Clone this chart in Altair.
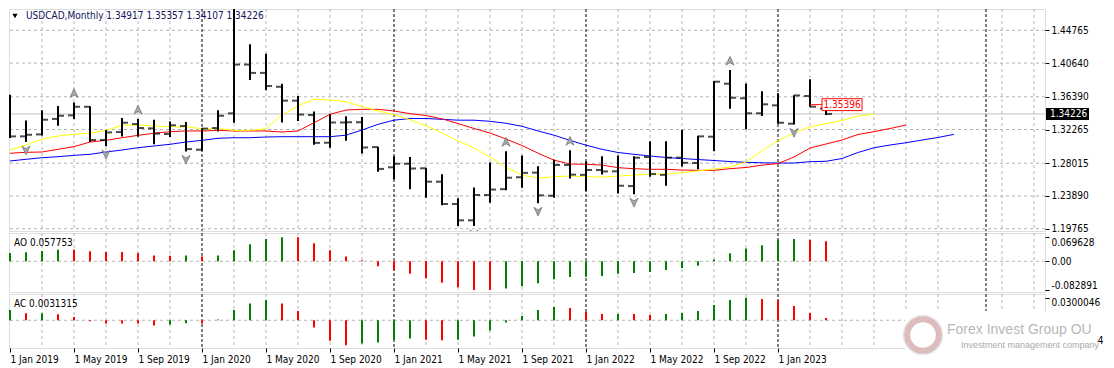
import altair as alt
import pandas as pd

# ---------------- data ----------------
x_labels = ["1 Jan 2019", "1 May 2019", "1 Sep 2019", "1 Jan 2020", "1 May 2020",
            "1 Sep 2020", "1 Jan 2021", "1 May 2021", "1 Sep 2021", "1 Jan 2022",
            "1 May 2022", "1 Sep 2022", "1 Jan 2023"]

opens = [1.3637, 1.3140, 1.3165, 1.3360, 1.3405, 1.3513, 1.3094, 1.3195, 1.3295, 1.3241,
         1.3170, 1.3270, 1.2972, 1.3245, 1.3430, 1.4045, 1.3940, 1.3765, 1.3590, 1.3410,
         1.3060, 1.3315, 1.3318, 1.3005, 1.2750, 1.2795, 1.2738, 1.2569, 1.2288, 1.2082,
         1.2401, 1.2475, 1.2625, 1.2683, 1.2392, 1.2779, 1.2655, 1.2716, 1.2700, 1.2514,
         1.2880, 1.2655, 1.2872, 1.2805, 1.3136, 1.3804, 1.3620, 1.3431, 1.3531, 1.3300,
         1.3649, 1.34917]
highs = [1.3665, 1.3340, 1.3468, 1.3522, 1.3568, 1.3521, 1.3220, 1.3370, 1.3360, 1.3348,
         1.3328, 1.3321, 1.3242, 1.3468, 1.4760, 1.4300, 1.4180, 1.3804, 1.3649, 1.3455,
         1.3418, 1.3395, 1.3384, 1.3010, 1.2890, 1.2880, 1.2740, 1.2662, 1.2360, 1.2495,
         1.2812, 1.2952, 1.2900, 1.2765, 1.2845, 1.2966, 1.2822, 1.2890, 1.2900, 1.2890,
         1.3080, 1.3078, 1.3224, 1.3148, 1.3838, 1.3975, 1.3806, 1.3710, 1.3683, 1.3658,
         1.3859, 1.35357]
lows = [1.3118, 1.3068, 1.3150, 1.3274, 1.3360, 1.3070, 1.3016, 1.3140, 1.3134, 1.3042,
        1.3131, 1.2951, 1.2960, 1.3200, 1.3312, 1.3850, 1.3720, 1.3315, 1.3333, 1.3035,
        1.2996, 1.3085, 1.2925, 1.2695, 1.2599, 1.2473, 1.2367, 1.2271, 1.2011, 1.2011,
        1.2304, 1.2462, 1.2494, 1.2296, 1.2367, 1.2608, 1.2451, 1.2660, 1.2420, 1.2410,
        1.2631, 1.2519, 1.2762, 1.2727, 1.2953, 1.3489, 1.3229, 1.3397, 1.3300, 1.3290,
        1.3514, 1.34107]
closes = [1.3140, 1.3160, 1.3350, 1.3400, 1.3513, 1.3094, 1.3190, 1.3312, 1.3245, 1.3175,
          1.3280, 1.2980, 1.3238, 1.3400, 1.4045, 1.3940, 1.3775, 1.3590, 1.3415, 1.3058,
          1.3315, 1.3318, 1.3000, 1.2730, 1.2795, 1.2735, 1.2569, 1.2288, 1.2082, 1.2401,
          1.2470, 1.2619, 1.2680, 1.2397, 1.2779, 1.2658, 1.2716, 1.2698, 1.2518, 1.2871,
          1.2665, 1.2872, 1.2807, 1.3140, 1.3829, 1.3627, 1.3431, 1.3544, 1.3312, 1.3656,
          1.3514, 1.34226]

# Alligator lines (already shifted forward, one value per bar slot)
lips = [1.2968, 1.3031, 1.3103, 1.3145, 1.3166, 1.3179, 1.3216, 1.3279, 1.3283, 1.3271,
        1.3262, 1.3258, 1.3237, 1.3237, 1.3216, 1.3216, 1.3237, 1.3409, 1.3523, 1.3607,
        1.3598, 1.3577, 1.3516, 1.3460, 1.3413, 1.3350, 1.3271, 1.3182, 1.3085, 1.2993,
        1.2880, 1.2748, 1.2653, 1.2615, 1.2632, 1.2640, 1.2632, 1.2628, 1.2640, 1.2653,
        1.2662, 1.2669, 1.2682, 1.2704, 1.2729, 1.2754, 1.2817, 1.2956, 1.3088, 1.3182,
        1.3258, 1.3300, 1.3340, 1.3397, 1.3418]
teeth = [1.2927, 1.2939, 1.2943, 1.2977, 1.3010, 1.3069, 1.3090, 1.3123, 1.3153, 1.3179,
         1.3199, 1.3208, 1.3208, 1.3216, 1.3208, 1.3208, 1.3208, 1.3195, 1.3208, 1.3312,
         1.3418, 1.3472, 1.3481, 1.3481, 1.3460, 1.3426, 1.3403, 1.3361, 1.3302, 1.3239,
         1.3182, 1.3107, 1.3025, 1.2928, 1.2840, 1.2792, 1.2788, 1.2779, 1.2745, 1.2733,
         1.2725, 1.2725, 1.2716, 1.2712, 1.2712, 1.2733, 1.2748, 1.2777, 1.2798, 1.2880,
         1.2993, 1.3044, 1.3094, 1.3164, 1.3199, 1.3239, 1.3283]
jaw = [1.2830, 1.2851, 1.2871, 1.2884, 1.2901, 1.2914, 1.2943, 1.2968, 1.2997, 1.3019,
       1.3040, 1.3069, 1.3090, 1.3116, 1.3123, 1.3123, 1.3132, 1.3136, 1.3136, 1.3136,
       1.3136, 1.3155, 1.3220, 1.3292, 1.3344, 1.3365, 1.3365, 1.3355, 1.3344, 1.3344,
       1.3330, 1.3305, 1.3267, 1.3208, 1.3155, 1.3090, 1.3029, 1.2977, 1.2937, 1.2914,
       1.2893, 1.2874, 1.2861, 1.2848, 1.2836, 1.2823, 1.2813, 1.2807, 1.2804, 1.2804,
       1.2821, 1.2826, 1.2861, 1.2937, 1.2997, 1.3031, 1.3060, 1.3094, 1.3126, 1.3166]

ao = [0.024, 0.026, 0.030, 0.0335, 0.033, 0.029, 0.027, 0.0265, 0.024, 0.017,
      0.016, 0.017, 0.014, 0.017, 0.032, 0.049, 0.064, 0.0696, 0.069, 0.052,
      0.032, 0.014, 0.003, -0.014, -0.026, -0.036, -0.049, -0.062, -0.075, -0.0826,
      -0.0829, -0.078, -0.072, -0.063, -0.052, -0.045, -0.0445, -0.042, -0.036, -0.034,
      -0.031, -0.025, -0.019, -0.013, 0.005, 0.023, 0.037, 0.046, 0.062, 0.064,
      0.062, 0.0578]
ao_colors = list("gggg" "rrrrrrr" "g" "r" "ggggg" "rrrrrrrrrrrrr" "ggggggggggggggggggg" "rr")

ac = [0.0136, 0.0092, 0.0092, 0.0079, 0.0044, -0.0013, -0.0044, -0.0044, -0.0044, -0.0070,
      -0.0057, -0.0040, -0.0044, 0.0009, 0.0136, 0.0224, 0.0268, 0.0224, 0.0123, -0.0097,
      -0.0273, -0.0331764, -0.0308, -0.0295, -0.0260, -0.0242, -0.0260, -0.0264, -0.0258, -0.0216,
      -0.0136, -0.0031, 0.0057, 0.0136, 0.0176, 0.0163, 0.0110, 0.0084, 0.0085, 0.0083,
      0.0070, 0.0084, 0.0097, 0.0123, 0.0202, 0.0268, 0.0300046, 0.0282, 0.0268, 0.0189,
      0.0097, 0.0031315]
ac_colors = list("g" "r" "g" "rrrrrrr" "gg" "r" "gggg" "rrrrr" "gggg" "rr" "ggggggg"
                 "rrr" "g" "rr" "gggggg" "rrrrr")

fractal_up = [4, 8, 14, 31, 35, 45]
fractal_down = [1, 6, 11, 29, 33, 39, 49]

price_ticks = [1.19765, 1.23890, 1.28015, 1.32265, 1.36390, 1.40640, 1.44765]
ao_ticks = [0.069628, 0.0, -0.082891]
ao_tick_labels = ["0.069628", "0.00", "-0.082891"]
ac_ticks = [0.0300046, -0.0331764]          # the 0.00 label is hidden under the logo
ac_tick_labels = ["0.0300046", "-0.0331764"]

year_separators = [12, 24, 36, 48, 61]
grid_bars = [2, 4, 6, 8, 10, 14, 16, 18, 20, 22, 26, 28, 30, 32, 34, 38, 40, 42, 44, 46,
             50, 52, 54, 56, 58, 62, 64]

symbol = "USDCAD,Monthly"
last_ohlc = [1.34917, 1.35357, 1.34107, 1.34226]
current_price = 1.34226
price_label = 1.35396
price_label_bar = 50
ao_caption = "AO 0.057753"
ac_caption = "AC 0.0031315"
brand = "Forex Invest Group OU"
brand_sub = "Investment management company"

# ---------------- layout / style ----------------
W = 1036
H_MAIN, H_AO, H_AC = 222, 59, 54
FONT = "'DejaVu Sans Condensed', 'Liberation Sans', sans-serif"
GRID = "#b4b4b4"
UP_PATH = "M0,-1L0.85,0.85L0,0.3L-0.85,0.85Z"
DOWN_PATH = "M0,1L0.85,-0.85L0,-0.3L-0.85,-0.85Z"

n = len(opens)
bars = pd.DataFrame({"i": list(range(n)), "o": opens, "h": highs, "l": lows, "c": closes})
lips_df = pd.DataFrame({"i": list(range(len(lips))), "v": lips})
teeth_df = pd.DataFrame({"i": list(range(len(teeth))), "v": teeth})
jaw_df = pd.DataFrame({"i": list(range(len(jaw))), "v": jaw})
ao_df = pd.DataFrame({"i": list(range(len(ao))), "v": ao, "c": ao_colors})
ac_df = pd.DataFrame({"i": list(range(len(ac))), "v": ac, "c": ac_colors})
grid_df = pd.DataFrame({"g": grid_bars})
sep_df = pd.DataFrame({"s": year_separators})
ptick_df = pd.DataFrame({"p": price_ticks})
cur_df = pd.DataFrame({"p": [current_price], "t": [f"{current_price:.5f}"]})
lbl_df = pd.DataFrame({"p": [price_label], "b": [price_label_bar]})
zero_df = pd.DataFrame({"z": [0.0]})
one = pd.DataFrame({"k": [0]})
header_df = pd.DataFrame({"t": [symbol + "  " + " ".join(f"{v:.5f}" for v in last_ohlc)]})

xs = alt.Scale(domain=[-1 / 16, (W - 1) / 16], nice=False, zero=False)
ys = alt.Scale(domain=[1.19477, 1.4745], nice=False, zero=False)
ys_ao = alt.Scale(domain=[-0.0884, 0.0815], nice=False, zero=False)
ys_ac = alt.Scale(domain=[-0.0368, 0.0349], nice=False, zero=False)
col_scale = alt.Scale(domain=["g", "r"], range=["#008000", "#ff0000"])


def label_expr(vals, labels):
    expr = "''"
    for v, l in reversed(list(zip(vals, labels))):
        expr = f"(abs(datum.value - ({v})) < 1e-9 ? '{l}' : {expr})"
    return expr


def right_axis(values, **kw):
    return alt.Axis(orient="right", values=values, title=None, grid=False, domain=False,
                    tickSize=4, tickColor="black", labelColor="black", labelFont=FONT,
                    labelFontSize=10, labelPadding=2, zindex=0, **kw)


# indicator windows: max label hangs below its tick, min label sits above its tick
IND_BASELINE = {"condition": {"test": "datum.value > 0", "value": "top"}, "value": "bottom"}
IND_OFFSET = {"condition": {"test": "datum.value == 0", "value": 5}, "value": 0}

main_yaxis = right_axis(price_ticks, format=".5f")
ao_yaxis = right_axis(ao_ticks, labelExpr=label_expr(ao_ticks, ao_tick_labels),
                      labelBaseline=IND_BASELINE, labelOffset=IND_OFFSET)
ac_yaxis = right_axis(ac_ticks, labelExpr=label_expr(ac_ticks, ac_tick_labels),
                      labelBaseline=IND_BASELINE, labelOffset=IND_OFFSET)
xl_expr = "[" + ",".join(f"'{s}'" for s in x_labels) + "][round(datum.value / 4)]"
ac_xaxis = alt.Axis(values=list(range(0, 4 * len(x_labels), 4)), labelExpr=xl_expr,
                    labelAlign="left", labelBaseline="top", labelPadding=2,
                    labelFlush=False, labelOverlap=False, tickSize=4,
                    tickColor="black", domain=False, grid=False, labelFont=FONT,
                    labelFontSize=10, labelColor="black", title=None, zindex=0)


def vgrid(xaxis=None):
    return alt.Chart(grid_df).mark_rule(color=GRID, strokeDash=[3, 3], strokeWidth=1).encode(
        x=alt.X("g:Q", scale=xs, axis=xaxis))


def seps(xaxis=None):
    return alt.Chart(sep_df).mark_rule(color="black", strokeDash=[3, 2], strokeWidth=1).encode(
        x=alt.X("s:Q", scale=xs, axis=xaxis))


X = alt.X("i:Q", scale=xs, axis=None)


def YM(field):
    return alt.Y(field, type="quantitative", scale=ys, axis=main_yaxis)


# ---------------- main price panel ----------------
hgrid = alt.Chart(ptick_df).mark_rule(color=GRID, strokeDash=[3, 3], strokeWidth=1).encode(
    y=YM("p"))
price_line = alt.Chart(cur_df).mark_rule(color="#c0c0c0", strokeWidth=1).encode(y=YM("p"))


def ma(df, color):
    return alt.Chart(df).mark_line(color=color, strokeWidth=1, clip=True).encode(
        x=X, y=YM("v"))


hl = alt.Chart(bars).mark_rule(color="black", strokeWidth=2, clip=True).encode(
    x=X, y=YM("l"), y2="h:Q")
op = alt.Chart(bars).mark_tick(orient="horizontal", size=6, thickness=2, color="black",
                               xOffset=-3, clip=True).encode(x=X, y=YM("o"))
cl = alt.Chart(bars).mark_tick(orient="horizontal", size=6, thickness=2, color="black",
                               xOffset=3, clip=True).encode(x=X, y=YM("c"))

fr_up = alt.Chart(bars[bars["i"].isin(fractal_up)]).mark_point(
    shape=UP_PATH, size=90, filled=True, fill="#a3a8b2", stroke="#6a6a6a", strokeWidth=0.7,
    opacity=1, yOffset=-9, clip=True).encode(x=X, y=YM("h"))
fr_dn = alt.Chart(bars[bars["i"].isin(fractal_down)]).mark_point(
    shape=DOWN_PATH, size=90, filled=True, fill="#a3a8b2", stroke="#6a6a6a", strokeWidth=0.7,
    opacity=1, yOffset=8, clip=True).encode(x=X, y=YM("l"))

lbl_line = alt.Chart(lbl_df).transform_calculate(b2="datum.b + 0.75").mark_rule(
    color="red", strokeWidth=1).encode(
    x=alt.X("b:Q", scale=xs, axis=None), x2="b2:Q", y=YM("p"))
lbl_box = alt.Chart(lbl_df).transform_calculate(
    bx1="datum.b + 0.75", bx2="datum.b + 3.25",
    py1="datum.p - 0.0075", py2="datum.p + 0.0075").mark_rect(
    fill="white", stroke="red", strokeWidth=1).encode(
    x=alt.X("bx1:Q", scale=xs, axis=None), x2="bx2:Q", y=YM("py1"), y2="py2:Q")
lbl_text = alt.Chart(lbl_df).transform_calculate(
    bm="datum.b + 2", t="format(datum.p, '.5f')").mark_text(
    color="red", fontSize=10, font=FONT, align="center", baseline="middle").encode(
    x=alt.X("bm:Q", scale=xs, axis=None), y=YM("p"), text="t:N")

header_tri = alt.Chart(one).mark_point(shape="triangle-down", size=28, filled=True,
                                       color="black", opacity=1).encode(
    x=alt.value(6), y=alt.value(7))
header_text = alt.Chart(header_df).mark_text(align="left", baseline="middle", fontSize=10,
                                             font=FONT, color="#14145a").encode(
    x=alt.value(17), y=alt.value(7), text="t:N")

cur_tag = alt.Chart(cur_df).mark_rule(color="black", strokeWidth=12, clip=False).encode(
    x=alt.value(W + 1), x2=alt.value(W + 44), y=YM("p"))
cur_text = alt.Chart(cur_df).mark_text(color="white", align="left", baseline="middle",
                                       fontSize=10, font=FONT, clip=False).encode(
    x=alt.value(W + 5), y=YM("p"), text="t:N")

main = alt.layer(
    vgrid(), hgrid, seps(), price_line,
    ma(jaw_df, "#0000ff"), ma(teeth_df, "#ff0000"), ma(lips_df, "#ffff00"),
    hl, op, cl, fr_up, fr_dn, lbl_line, lbl_box, lbl_text,
    header_tri, header_text, cur_tag, cur_text
).properties(width=W, height=H_MAIN)

# ---------------- AO panel ----------------
ao_zero = alt.Chart(zero_df).mark_rule(color=GRID, strokeDash=[3, 3]).encode(
    y=alt.Y("z:Q", scale=ys_ao, axis=ao_yaxis))
ao_bars = alt.Chart(ao_df).mark_rule(strokeWidth=2).encode(
    x=X, y=alt.Y("v:Q", scale=ys_ao, axis=ao_yaxis), y2=alt.datum(0),
    color=alt.Color("c:N", scale=col_scale, legend=None))
ao_cap = alt.Chart(pd.DataFrame({"t": [ao_caption]})).mark_text(
    align="left", baseline="middle", fontSize=10, font=FONT, color="black").encode(
    x=alt.value(5), y=alt.value(10), text="t:N")
ao_chart = alt.layer(vgrid(), seps(), ao_zero, ao_bars, ao_cap).properties(width=W, height=H_AO)

# ---------------- AC panel ----------------
ac_zero = alt.Chart(zero_df).mark_rule(color=GRID, strokeDash=[3, 3]).encode(
    y=alt.Y("z:Q", scale=ys_ac, axis=ac_yaxis))
ac_bars = alt.Chart(ac_df).mark_rule(strokeWidth=2).encode(
    x=alt.X("i:Q", scale=xs, axis=ac_xaxis),
    y=alt.Y("v:Q", scale=ys_ac, axis=ac_yaxis), y2=alt.datum(0),
    color=alt.Color("c:N", scale=col_scale, legend=None))
ac_cap = alt.Chart(pd.DataFrame({"t": [ac_caption]})).mark_text(
    align="left", baseline="middle", fontSize=10, font=FONT, color="black").encode(
    x=alt.value(5), y=alt.value(10), text="t:N")

wm_box = alt.Chart(one).mark_rect(color="white", clip=False).encode(
    x=alt.value(896), x2=alt.value(1088), y=alt.value(17), y2=alt.value(73))
wm_ring = alt.Chart(one).mark_point(shape="circle", size=1000, filled=False,
                                    stroke="#dcbcbc", strokeWidth=6, opacity=1,
                                    clip=False).encode(x=alt.value(914), y=alt.value(41))
wm_ring2 = alt.Chart(one).mark_point(shape="circle", size=1500, filled=False,
                                     stroke="#e4e4e4", strokeWidth=1.5, opacity=1,
                                     clip=False).encode(x=alt.value(914), y=alt.value(41))
wm_text = alt.Chart(pd.DataFrame({"t": [brand]})).mark_text(
    align="left", baseline="middle", fontSize=14, color="#b8b8b8", clip=False,
    font="'Liberation Sans', sans-serif").encode(
    x=alt.value(938), y=alt.value(36), text="t:N")
wm_sub = alt.Chart(pd.DataFrame({"t": [brand_sub]})).mark_text(
    align="left", baseline="middle", fontSize=9, color="#a9a9a9", clip=False,
    font="'Liberation Sans', sans-serif").encode(
    x=alt.value(952), y=alt.value(51), text="t:N")

ac_chart = alt.layer(vgrid(ac_xaxis), seps(ac_xaxis), ac_zero, ac_bars, ac_cap,
                     wm_box, wm_ring2, wm_ring, wm_text, wm_sub).properties(width=W, height=H_AC)

chart = alt.vconcat(main, ao_chart, ac_chart, spacing=2, bounds="flush").properties(
    padding=0, background="white"
).configure_view(stroke="black", strokeWidth=1).configure(font=FONT)

chart.save("out.html", embed_options={"renderer": "svg", "actions": False})
